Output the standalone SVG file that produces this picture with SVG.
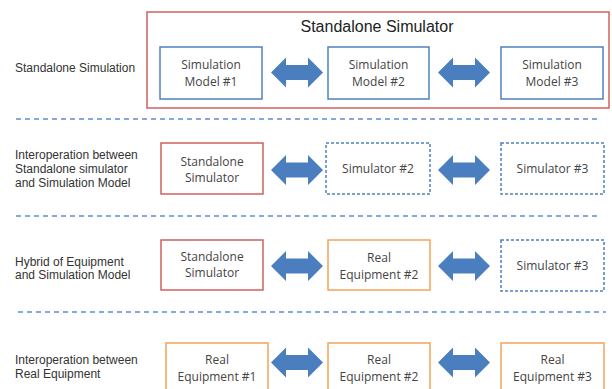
<svg xmlns="http://www.w3.org/2000/svg" width="612" height="389" viewBox="0 0 612 389">
<defs>
<style>
.lbl{font-family:"Liberation Sans",Arial,sans-serif;font-size:12px;fill:#333}
.bt{font-family:"Open Sans","Liberation Sans",sans-serif;font-size:12px;fill:#444;text-anchor:middle}
.ttl{font-family:"Liberation Sans",Arial,sans-serif;font-size:16px;fill:#222;text-anchor:middle}
.blue{fill:#fff;stroke:#4f81bd;stroke-width:1.5}
.red{fill:#fff;stroke:#d0605e;stroke-width:1.5}
.orange{fill:#fff;stroke:#f5a35a;stroke-width:1.5}
.dash{fill:#fff;stroke:#4f81bd;stroke-width:1.5;stroke-dasharray:3,2}
.sep{stroke:#5b8fd0;stroke-width:1.3;stroke-dasharray:5,4;fill:none}
.arr{fill:#4a7ebf}
</style>
<path id="dbl" d="M0,0 L15,-15 L15,-7.5 L37,-7.5 L37,-15 L52,0 L37,15 L37,7.5 L15,7.5 L15,15 Z"/>
</defs>
<rect width="612" height="389" fill="#fff"/>

<g id="labels">
<text class="lbl" x="15" y="72">Standalone Simulation</text>
<text class="lbl" x="15" y="159">Interoperation between</text>
<text class="lbl" x="15" y="173">Standalone simulator</text>
<text class="lbl" x="15" y="187">and Simulation Model</text>
<text class="lbl" x="15" y="266">Hybrid of Equipment</text>
<text class="lbl" x="15" y="279">and Simulation Model</text>
<text class="lbl" x="15" y="364">Interoperation between</text>
<text class="lbl" x="15" y="378">Real Equipment</text>
</g>

<g id="separators">
<line class="sep" x1="16" y1="119" x2="600" y2="119"/>
<line class="sep" x1="16" y1="216" x2="600" y2="216"/>
<line class="sep" x1="18" y1="312" x2="606" y2="312"/>
</g>

<g id="standalone-simulator">
<rect class="red" x="147" y="12" width="462" height="96"/>
<text class="ttl" x="377" y="32">Standalone Simulator</text>
</g>

<g id="r1n1"><rect class="blue" x="160" y="47" width="102" height="52"/><text class="bt" x="211" y="69">Simulation</text><text class="bt" x="211" y="86">Model #1</text></g>
<g id="r1n2"><rect class="blue" x="328" y="47" width="101" height="52"/><text class="bt" x="378.5" y="69">Simulation</text><text class="bt" x="378.5" y="86">Model #2</text></g>
<g id="r1n3"><rect class="blue" x="501" y="47" width="102" height="52"/><text class="bt" x="552" y="69">Simulation</text><text class="bt" x="552" y="86">Model #3</text></g>

<g id="r2n1"><rect class="red" x="161" y="143" width="102" height="51"/><text class="bt" x="212" y="166">Standalone</text><text class="bt" x="212" y="182">Simulator</text></g>
<g id="r2n2"><rect class="dash" x="326" y="143" width="104" height="51"/><text class="bt" x="378" y="173">Simulator #2</text></g>
<g id="r2n3"><rect class="dash" x="501" y="143" width="103" height="51"/><text class="bt" x="552.5" y="173">Simulator #3</text></g>

<g id="r3n1"><rect class="red" x="161" y="240" width="102" height="50"/><text class="bt" x="212" y="261">Standalone</text><text class="bt" x="212" y="277">Simulator</text></g>
<g id="r3n2"><rect class="orange" x="328" y="240" width="102" height="50"/><text class="bt" x="379" y="262">Real</text><text class="bt" x="379" y="279">Equipment #2</text></g>
<g id="r3n3"><rect class="dash" x="501" y="240" width="103" height="51"/><text class="bt" x="552.5" y="270">Simulator #3</text></g>

<g id="r4n1"><rect class="orange" x="166" y="343" width="102" height="52"/><text class="bt" x="217" y="364">Real</text><text class="bt" x="217" y="381">Equipment #1</text></g>
<g id="r4n2"><rect class="orange" x="328" y="343" width="102" height="52"/><text class="bt" x="379" y="364">Real</text><text class="bt" x="379" y="381">Equipment #2</text></g>
<g id="r4n3"><rect class="orange" x="501" y="343" width="103" height="52"/><text class="bt" x="552.5" y="364">Real</text><text class="bt" x="552.5" y="381">Equipment #3</text></g>

<g id="connectors" class="arr">
<use href="#dbl" x="271" y="72.5"/>
<use href="#dbl" x="438" y="72.5"/>
<use href="#dbl" x="271" y="170"/>
<use href="#dbl" x="438" y="170"/>
<use href="#dbl" x="271" y="266"/>
<use href="#dbl" x="438" y="266"/>
<use href="#dbl" x="271" y="362.5"/>
<use href="#dbl" x="438" y="362.5"/>
</g>
</svg>
